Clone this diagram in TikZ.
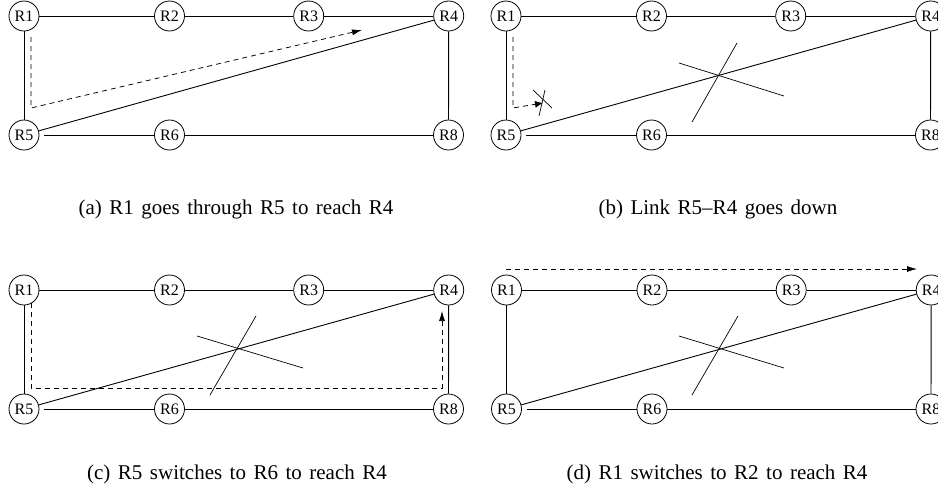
\documentclass[tikz,border=0pt]{standalone}
\usepackage{fontspec}
\setmainfont{Liberation Serif}
\usetikzlibrary{arrows.meta}

% caption type: 21pt with slightly wider word spaces
\newcommand\capfont{\fontsize{21}{21}\selectfont\spaceskip=7.5pt plus 2pt\relax}

\tikzset{
  router/.style={circle, draw, line width=0.8pt, minimum size=30pt, inner sep=0pt,
                 font=\fontsize{16}{16}\selectfont},
  link/.style={line width=0.9pt},
  route/.style={line width=0.75pt, dash pattern=on 5pt off 4pt,
                -{Latex[length=10pt,width=6pt]}},
  cut/.style={line width=0.7pt},
  caption/.style={anchor=base, font=\capfont}
}

% One network: #1 name prefix, #2 x shift, #3 y shift of the top row
\newcommand\drawnet[3]{%
  \begin{scope}[shift={(#2,#3)}]
    \node[router] (#1R1) at (24,0)     {R1};
    \node[router] (#1R2) at (169.5,0)  {R2};
    \node[router] (#1R3) at (308.7,0)  {R3};
    \node[router] (#1R4) at (448.7,0)  {R4};
    \node[router] (#1R5) at (24,119)   {R5};
    \node[router] (#1R6) at (169.5,119){R6};
    \node[router] (#1R8) at (448.5,119){R8};
  \end{scope}
  \draw[link] (#1R1) -- (#1R2);
  \draw[link] (#1R2) -- (#1R3);
  \draw[link] (#1R3) -- (#1R4);
  \draw[link] (#1R1) -- (#1R5);
  \draw[link] (#1R4) -- (#1R8);
  \draw[link] (#1R5) -- (#1R4);
  \draw[link, shorten <=5pt] (#1R5) -- (#1R6);
  \draw[link] (#1R6) -- (#1R8);
}

\begin{document}
\begin{tikzpicture}[x=1pt, y=-1pt]
  \useasboundingbox (0,0) rectangle (938,488);
  \clip (0,0) rectangle (938,488);

  % (a) R1 -> R5 -> R4
  \drawnet{a}{0}{16}
  \coordinate (a-s) at (31,37);
  \coordinate (a-k) at (31,108);
  \coordinate (a-t) at (362,30);
  \draw[route] (a-s) -- (a-k) -- (a-t);
  \node[caption] (capa) at (236,214) {(a) R1 goes through R5 to reach R4};

  % (b) link R5--R4 fails
  \drawnet{b}{482}{16}
  \coordinate (b-s) at (513,37);
  \coordinate (b-k) at (513,108);
  \coordinate (b-t) at (543,103);
  \draw[route, -{Latex[length=8pt,width=7pt]}] (b-s) -- (b-k) -- (b-t);
  \draw[cut] (533,90) -- (552,108);
  \draw[cut] (545,90) -- (539,116);
  \draw[cut] (679,63) -- (784,96);
  \draw[cut] (737,43) -- (692,122);
  \node[caption] (capb) at (718,214) {(b) Link R5--R4 goes down};

  % (c) R5 reroutes via R6
  \drawnet{c}{0}{290}
  \coordinate (c-s) at (31,303);
  \coordinate (c-k1) at (31,388);
  \coordinate (c-k2) at (442,388);
  \coordinate (c-t) at (442,311);
  \draw[route] (c-s) -- (c-k1) -- (c-k2) -- (c-t);
  \draw[cut] (197,336) -- (303,368);
  \draw[cut] (256,316) -- (210,395);
  \node[caption] (capc) at (237,479) {(c) R5 switches to R6 to reach R4};

  % (d) R1 reroutes via R2
  \drawnet{d}{482.5}{290}
  \coordinate (d-s) at (506,269);
  \coordinate (d-t) at (917,269);
  \draw[route] (d-s) -- (d-t);
  \draw[cut] (679,336) -- (784,368);
  \draw[cut] (738,316) -- (692,395);
  \node[caption] (capd) at (717,479) {(d) R1 switches to R2 to reach R4};
\end{tikzpicture}
\end{document}
